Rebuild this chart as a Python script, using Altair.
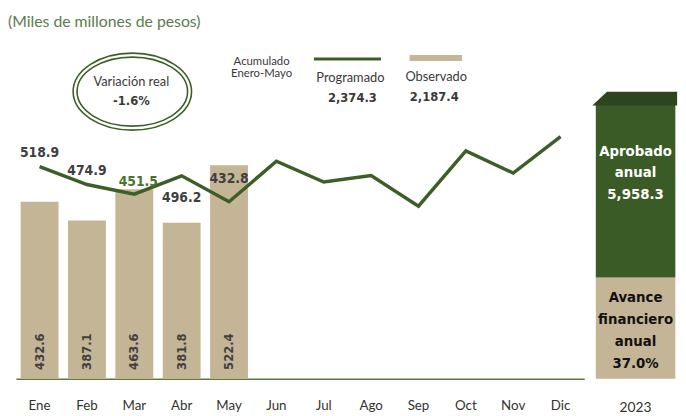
import altair as alt
import pandas as pd

meses = ["Ene", "Feb", "Mar", "Abr", "May", "Jun", "Jul", "Ago", "Sep", "Oct", "Nov", "Dic"]
programado = [518.9, 474.9, 451.5, 496.2, 432.8, 532.0, 481.0, 497.0, 422.0, 557.0, 503.0, 592.0]
observado = [432.6, 387.1, 463.6, 381.8, 522.4]

anio = "2023"
aprobado_anual = 5958.3
observado_acum = 2187.4
programado_acum = 2374.3
avance_pct = 37.0
variacion_real = -1.6

GREEN = "#3d5e27"
DARK_GREEN = "#3a5a26"
CAP_GREEN = "#2c451e"
BEIGE = "#c4b596"
TXT = "#3a3a3a"
FONT = "Lato"
BFONT = "Liberation Sans Narrow, DejaVu Sans Condensed, Liberation Sans"

df = pd.DataFrame({
    "mes": meses,
    "programado": programado,
    "observado": observado + [None] * (len(meses) - len(observado)),
})
obs_df = df.dropna(subset=["observado"])

xenc = alt.X("mes:N", sort=meses,
             scale=alt.Scale(paddingInner=0.2, paddingOuter=0.1),
             axis=alt.Axis(title=None, labelAngle=0, ticks=False, grid=False,
                           domainColor="#5a7d3a", domainWidth=1.5,
                           labelFontSize=13.5, labelColor="#333333", labelFont=FONT,
                           labelPadding=20))
yscale = alt.Scale(domain=[0, 900])

base = alt.Chart(df)
obs_base = alt.Chart(obs_df)

bars = obs_base.mark_bar(color=BEIGE).encode(
    x=xenc, y=alt.Y("observado:Q", scale=yscale, axis=None))

bar_labels = obs_base.mark_text(angle=270, align="left", baseline="middle", dx=9,
                                fontSize=13, fontWeight="bold", color="#404040", font=BFONT).encode(
    x=alt.X("mes:N", sort=meses), y=alt.datum(0), text=alt.Text("observado:Q", format=".1f"))

line = base.mark_line(color=GREEN, strokeWidth=3.5).encode(
    x=alt.X("mes:N", sort=meses), y=alt.Y("programado:Q", scale=yscale))

lab_common = dict(fontSize=14, fontWeight="bold", font=BFONT, baseline="middle")
prog_obs = df[df["mes"].isin(meses[:5])]
lab_above = alt.Chart(prog_obs[prog_obs["mes"].isin(["Ene", "Feb"])]).mark_text(
    dy=-14, color="#404040", **lab_common).encode(
    x=alt.X("mes:N", sort=meses), y=alt.Y("programado:Q", scale=yscale),
    text=alt.Text("programado:Q", format=".1f"))
lab_mar = alt.Chart(prog_obs[prog_obs["mes"] == "Mar"]).mark_text(
    dy=-12, dx=4, color="#4a7230", **lab_common).encode(
    x=alt.X("mes:N", sort=meses), y=alt.Y("programado:Q", scale=yscale),
    text=alt.Text("programado:Q", format=".1f"))
lab_abr = alt.Chart(prog_obs[prog_obs["mes"] == "Abr"]).mark_text(
    dy=22, color="#404040", **lab_common).encode(
    x=alt.X("mes:N", sort=meses), y=alt.Y("programado:Q", scale=yscale),
    text=alt.Text("programado:Q", format=".1f"))
lab_may = alt.Chart(prog_obs[prog_obs["mes"] == "May"]).mark_text(
    dy=-23, color="#404040", **lab_common).encode(
    x=alt.X("mes:N", sort=meses), y=alt.Y("programado:Q", scale=yscale),
    text=alt.Text("programado:Q", format=".1f"))

one = alt.Chart(pd.DataFrame({"k": [0]}))

def note(text, x, y, size=13, bold=False, color=TXT, align="center", font=None, lh=12):
    return one.mark_text(fontSize=size, fontWeight="bold" if bold else "normal",
                         color=color, align=align, baseline="middle",
                         font=font or (BFONT if bold else FONT), lineHeight=lh).encode(
        x=alt.value(x), y=alt.value(y), text=alt.value(text))

title = note("(Miles de millones de pesos)", -8, 12, size=16, color="#5a7d4a", align="left")

ell_outer = one.mark_point(shape="M -1 0 A 1 0.65 0 1 0 1 0 A 1 0.65 0 1 0 -1 0 Z",
                           size=14400, filled=False, color=GREEN, strokeWidth=1.6, opacity=1).encode(
    x=alt.value(118), y=alt.value(82))
ell_inner = one.mark_point(shape="M -1 0 A 1 0.625 0 1 0 1 0 A 1 0.625 0 1 0 -1 0 Z",
                           size=12544, filled=False, color=GREEN, strokeWidth=1.6, opacity=1).encode(
    x=alt.value(118), y=alt.value(82))
var_t1 = note("Variación real", 117, 72, size=13)
var_t2 = note(f"{variacion_real:.1f}%", 117, 92, size=13, bold=True)

acum = note(["Acumulado", "Enero-Mayo"], 249, 52, size=11.5)
leg_line = one.mark_rule(color=GREEN, strokeWidth=3).encode(
    x=alt.value(302), x2=alt.value(370), y=alt.value(49))
leg_prog = note("Programado", 339, 68, size=13)
leg_prog_v = note(f"{programado_acum:,.1f}", 341, 89, size=13, bold=True)
leg_bar = one.mark_rule(color=BEIGE, strokeWidth=6).encode(
    x=alt.value(399), x2=alt.value(452), y=alt.value(48))
leg_obs = note("Observado", 426, 67, size=13)
leg_obs_v = note(f"{observado_acum:,.1f}", 424, 87, size=13, bold=True)

main = alt.layer(bars, bar_labels, line, lab_above, lab_mar, lab_abr, lab_may,
                 title, ell_outer, ell_inner, var_t1, var_t2,
                 acum, leg_line, leg_prog, leg_prog_v, leg_bar, leg_obs, leg_obs_v).properties(
    width=576, height=373)

# right panel: annual approved vs progress
right_df = pd.DataFrame({
    "anio": [anio, anio],
    "parte": ["Avance", "Resto"],
    "valor": [observado_acum, aprobado_anual - observado_acum],
})
rbars = alt.Chart(right_df).mark_bar().encode(
    x=alt.X("anio:N", scale=alt.Scale(paddingInner=0.05, paddingOuter=0.02),
            axis=alt.Axis(title=None, labelAngle=0, ticks=False, domain=False,
                          labelFontSize=14, labelColor="#333333", labelFont=FONT, labelPadding=22)),
    y=alt.Y("valor:Q", stack="zero", scale=alt.Scale(domain=[0, 7950]), axis=None),
    color=alt.Color("parte:N", scale=alt.Scale(domain=["Avance", "Resto"], range=[BEIGE, DARK_GREEN]),
                    legend=None),
    order=alt.Order("parte:N", sort="ascending"),
)
# darker top face giving the 3D look
cap = one.mark_point(
    shape="M -0.93 0 L -0.6 -0.31 L 0.98 -0.31 L 0.98 0 Z",
    size=8100, filled=True, color=CAP_GREEN, opacity=1, strokeWidth=0).encode(
    x=alt.value(40), y=alt.value(96))
r_t1 = one.mark_text(fontSize=15, fontWeight="bold", color="white", font=BFONT,
                     align="center", baseline="middle", lineHeight=22).encode(
    x=alt.value(42), y=alt.value(142),
    text=alt.value(["Aprobado", "anual", f"{aprobado_anual:,.1f}"]))
r_t2 = one.mark_text(fontSize=15, fontWeight="bold", color="#111111", font=BFONT,
                     align="center", baseline="middle", lineHeight=22.5).encode(
    x=alt.value(42), y=alt.value(290),
    text=alt.value(["Avance", "financiero", "anual", f"{avance_pct:.1f}%"]))
right = alt.layer(rbars, cap, r_t1, r_t2).properties(width=84, height=373)

chart = alt.hconcat(main, right, spacing=8).properties(
    padding={"left": 0, "top": 0, "right": 0, "bottom": 0}
).configure_view(strokeWidth=0).resolve_scale(y="independent", x="independent")

chart.save("out.html", embed_options={"renderer": "svg", "actions": False})
